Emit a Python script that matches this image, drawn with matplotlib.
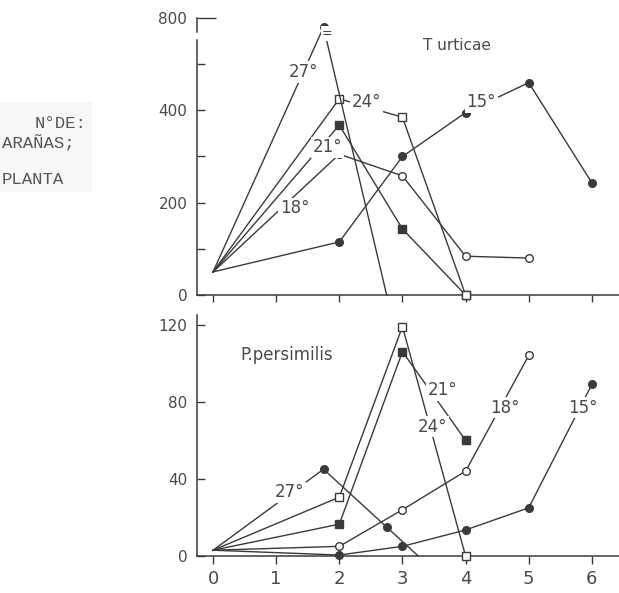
import numpy as np
import matplotlib
matplotlib.use("Agg")
import matplotlib.pyplot as plt
from matplotlib.patches import Rectangle

# --- data: spiders per plant vs. weeks, at five temperatures ---
temps = ["15°", "18°", "21°", "24°", "27°"]

# T. urticae
tu_x_15 = [0, 2, 3, 4, 5, 6]
tu_y_15 = [50, 115, 300, 395, 460, 243]
tu_x_18 = [0, 2, 3, 4, 5]
tu_y_18 = [50, 305, 258, 84, 80]
tu_x_21 = [0, 2, 3, 4]
tu_y_21 = [50, 368, 143, 0]
tu_x_24 = [0, 2, 3, 4]
tu_y_24 = [50, 425, 385, 0]
tu_x_27 = [0, 1.75, 2.75]
tu_y_27 = [50, 740, 0]

# P. persimilis
pp_x_15 = [0, 2, 3, 4, 5, 6]
pp_y_15 = [3, 0.5, 5, 13.5, 25, 89]
pp_x_18 = [0, 2, 3, 4, 5]
pp_y_18 = [3, 5, 24, 44, 104]
pp_x_21 = [0, 2, 3, 4]
pp_y_21 = [3, 16.5, 106, 60]
pp_x_24 = [0, 2, 3, 4]
pp_y_24 = [3, 30.5, 119, 0]
pp_x_27 = [0, 1.75, 2.75, 3.25]
pp_y_27 = [3, 45, 15, 0]

x_ticks = [0, 1, 2, 3, 4, 5, 6]
tu_yticks_major = [0, 200, 400, 800]
tu_yticks_minor = [100, 300, 500]
pp_yticks = [0, 40, 80, 120]

INK = "#3a3a3a"
TXT = "#4a4a4a"

styles = {
    "15°": dict(marker="o", mfc=INK),
    "18°": dict(marker="o", mfc="white"),
    "21°": dict(marker="s", mfc=INK),
    "24°": dict(marker="s", mfc="white"),
    "27°": dict(marker="o", mfc=INK),
}


def fwd(y):
    y = np.asarray(y, dtype=float)
    return np.where(y <= 500, y, 500 + (y - 500) / 3.0)


def inv(t):
    t = np.asarray(t, dtype=float)
    return np.where(t <= 500, t, 500 + (t - 500) * 3.0)


fig = plt.figure(figsize=(6.19, 5.93), dpi=100)
fig.patch.set_facecolor("white")

L = 197 / 619
W = 1 - L
ax1 = fig.add_axes([L, 1 - 295 / 593, W, (295 - 18) / 593])
ax2 = fig.add_axes([L, 1 - 556 / 593, W, (556 - 315) / 593])

for ax in (ax1, ax2):
    ax.set_facecolor("none")
    for s in ("top", "right"):
        ax.spines[s].set_visible(False)
    for s in ("left", "bottom"):
        ax.spines[s].set_color(INK)
        ax.spines[s].set_linewidth(1.1)
    ax.set_xlim(-0.254, 6.43)
    ax.set_xticks(x_ticks)


def draw(ax, x, y, key, mark_last=True):
    st = styles[key]
    stop = len(x) if mark_last else len(x) - 1
    ax.plot(x, y, color=INK, lw=1.0, marker=st["marker"], ms=5.5,
            mfc=st["mfc"], mec=INK, mew=1.0, markevery=list(range(1, stop)),
            clip_on=False, zorder=3)


# top panel: T. urticae (scale compressed above 500)
ax1.set_yscale("function", functions=(fwd, inv))
ax1.set_ylim(0, 800)
draw(ax1, tu_x_15, tu_y_15, "15°")
draw(ax1, tu_x_18, tu_y_18, "18°")
draw(ax1, tu_x_21, tu_y_21, "21°")
draw(ax1, tu_x_24, tu_y_24, "24°")
draw(ax1, tu_x_27, tu_y_27, "27°", mark_last=False)

ax1.set_yticks(tu_yticks_major)
ax1.set_yticklabels([str(v) for v in tu_yticks_major])
ax1.set_yticks(tu_yticks_minor, minor=True)
ax1.tick_params(axis="y", which="both", direction="in", length=6, width=1.0,
                color=INK, labelsize=11, labelcolor=TXT, pad=7)
ax1.tick_params(axis="x", direction="out", length=5, width=1.0, color=INK,
                labelbottom=False)
# longer cap tick at the top of the broken axis
ax1.yaxis.get_major_ticks()[-1].tick1line.set_markersize(14)

# break in the left spine
ax1.spines["left"].set_visible(False)
ax1.plot([0, 0], [0, 0.92], transform=ax1.transAxes, color=INK, lw=1.1,
         clip_on=False)
ax1.plot([0, 0], [0.948, 1.0], transform=ax1.transAxes, color=INK, lw=1.1,
         clip_on=False)

lab = dict(color=TXT, ha="center", va="center", zorder=4,
           bbox=dict(boxstyle="square,pad=0.1", fc="white", ec="none"))
ax1.text(1.44, 483, "27°", fontsize=12, **lab)
ax1.text(2.43, 418, "24°", fontsize=12, **lab)
ax1.text(1.81, 320, "21°", fontsize=12, **lab)
ax1.text(1.29, 188, "18°", fontsize=12, **lab)
ax1.text(4.25, 418, "15°", fontsize=12, **lab)
ax1.text(3.86, 623, "T urticae", fontsize=11, color=TXT, ha="center",
         va="center")
# break marks on the 27° line just under its peak
ax1.text(1.81, 700, "=", fontsize=9, color=INK, ha="center", va="center",
         zorder=5, bbox=dict(boxstyle="square,pad=0.05", fc="white", ec="none"))

# bottom panel: P. persimilis
ax2.set_ylim(0, 125)
draw(ax2, pp_x_15, pp_y_15, "15°")
draw(ax2, pp_x_18, pp_y_18, "18°")
draw(ax2, pp_x_21, pp_y_21, "21°")
draw(ax2, pp_x_24, pp_y_24, "24°")
draw(ax2, pp_x_27, pp_y_27, "27°", mark_last=False)
ax2.set_yticks(pp_yticks)
ax2.tick_params(axis="y", direction="in", length=6, width=1.0, color=INK,
                labelsize=11, labelcolor=TXT, pad=7)
ax2.tick_params(axis="x", direction="out", length=6, width=1.0, color=INK,
                labelsize=13, labelcolor=TXT, pad=4)

ax2.text(1.16, 104, "P.persimilis", fontsize=12, color=TXT, ha="center",
         va="center")
ax2.text(3.63, 86, "21°", fontsize=12, **lab)
ax2.text(3.48, 67, "24°", fontsize=12, **lab)
ax2.text(4.62, 77, "18°", fontsize=12, **lab)
ax2.text(5.86, 77, "15°", fontsize=12, **lab)
ax2.text(1.21, 33, "27°", fontsize=12, **lab)

# y-axis caption, typewritten on a pasted slip
fig.patches.append(Rectangle((0, 1 - 192 / 593), 92 / 619, 90 / 593,
                             transform=fig.transFigure, fc="#f7f7f7",
                             ec="none", zorder=0))
mono = dict(family="Liberation Mono", fontsize=12.5, color="#555555")
fig.text(86 / 619, 1 - 124 / 593, "N°DE:", ha="right", va="center", **mono)
fig.text(2 / 619, 1 - 143 / 593, "ARAÑAS;", ha="left", va="center", **mono)
fig.text(2 / 619, 1 - 179 / 593, "PLANTA", ha="left", va="center", **mono)

fig.savefig("out.png", dpi=100, facecolor="white")
